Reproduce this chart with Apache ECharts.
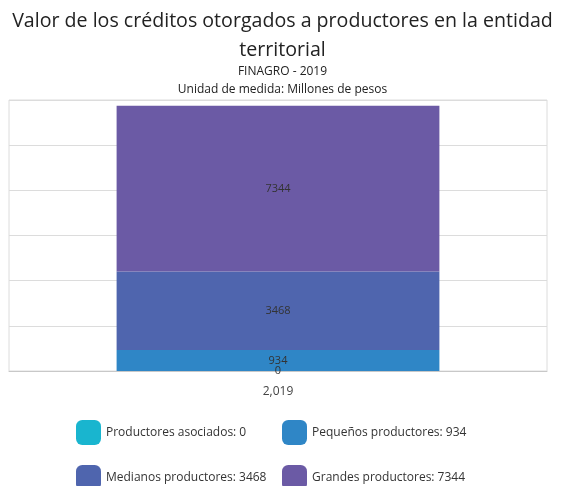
<!DOCTYPE html>
<html>
<head>
<meta charset="utf-8">
<script src="https://cdn.jsdelivr.net/npm/echarts@6/dist/echarts.min.js"></script>
<style>
  html, body { margin: 0; padding: 0; background: #fff; }
  #chart { width: 565px; height: 486px; }
</style>
</head>
<body>
<div id="chart"></div>
<script>
// data
const years = ['2,019']
const asociados = [0]
const pequenos = [934]
const medianos = [3468]
const grandes = [7344]

const names = [
  'Productores asociados',
  'Pequeños productores',
  'Medianos productores',
  'Grandes productores'
]
const colors = ['#19b5cf', '#2f86c6', '#4f65ae', '#6b5aa5']
const values = [asociados, pequenos, medianos, grandes]

const totals = {}
names.forEach((n, i) => { totals[n] = values[i][0] })

const font = '"Open Sans", "Noto Sans", sans-serif'

// one legend per item so the two columns line up
const legendPos = [[76, 420], [282, 420], [76, 465], [282, 465]]
const legends = names.map((n, i) => ({
  data: [n],
  left: legendPos[i][0],
  top: legendPos[i][1],
  padding: 0,
  itemWidth: 25,
  itemHeight: 25,
  itemGap: 5,
  icon: 'roundRect',
  textStyle: { fontFamily: font, fontSize: 12, color: '#333' },
  formatter: name => name + ': ' + totals[name]
}))

const chart = echarts.init(document.getElementById('chart'))

chart.setOption({
  animation: false,
  textStyle: { fontFamily: font },
  title: [
    {
      text: 'Valor de los créditos otorgados a productores en la entidad\nterritorial',
      left: 'center',
      top: 7,
      padding: 0,
      textStyle: { fontFamily: font, fontSize: 19.6, fontWeight: 'normal', color: '#222', lineHeight: 29 }
    },
    {
      text: 'FINAGRO - 2019\nUnidad de medida: Millones de pesos',
      left: 'center',
      top: 63,
      padding: 0,
      textStyle: { fontFamily: font, fontSize: 12, fontWeight: 'normal', color: '#222', lineHeight: 18 }
    }
  ],
  legend: legends,
  grid: {
    left: 9,
    right: 18,
    top: 100,
    bottom: 115,
    show: true,
    borderColor: '#dcdcdc',
    borderWidth: 1
  },
  xAxis: {
    type: 'category',
    data: years,
    axisLine: { lineStyle: { color: '#c8c8c8' } },
    axisTick: { show: false },
    axisLabel: { color: '#444', fontSize: 12, margin: 15 }
  },
  yAxis: {
    type: 'value',
    min: 0,
    max: 12000,
    interval: 2000,
    axisLabel: { show: false },
    axisLine: { show: false },
    axisTick: { show: false },
    splitLine: { lineStyle: { color: '#dcdcdc' } }
  },
  series: names.map((n, i) => ({
    name: n,
    type: 'bar',
    stack: 'total',
    barWidth: '60%',
    data: values[i],
    itemStyle: { color: colors[i] },
    label: {
      show: true,
      position: 'inside',
      color: '#333',
      fontSize: 11
    }
  }))
})
</script>
</body>
</html>
